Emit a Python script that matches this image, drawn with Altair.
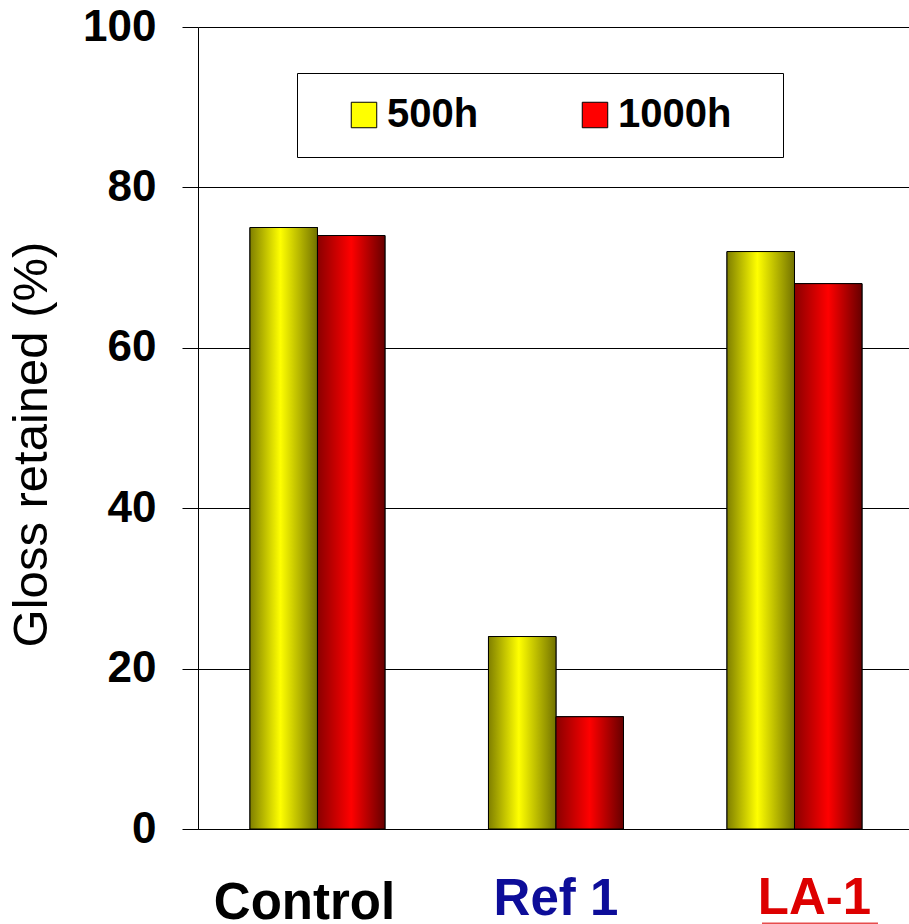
import altair as alt
import pandas as pd

categories = ["Control", "Ref 1", "LA-1"]
series = ["500h", "1000h"]
values_500h = [75, 24, 72]
values_1000h = [74, 14, 68]
series_colors = ["#ffff00", "#ff0000"]
y_ticks = [0, 20, 40, 60, 80, 100]

rows = []
for c, a, b in zip(categories, values_500h, values_1000h):
    rows.append({"cat": c, "series": "500h", "value": a})
    rows.append({"cat": c, "series": "1000h", "value": b})
df = pd.DataFrame(rows)
underline_df = pd.DataFrame({"cat": ["LA-1"]})

grad_yellow = {
    "gradient": "linear", "x1": 0, "x2": 1, "y1": 0, "y2": 0,
    "stops": [
        {"offset": 0, "color": "#7f7f00"},
        {"offset": 0.45, "color": "#ffff00"},
        {"offset": 1, "color": "#727200"},
    ],
}
grad_red = {
    "gradient": "linear", "x1": 0, "x2": 1, "y1": 0, "y2": 0,
    "stops": [
        {"offset": 0, "color": "#8a0000"},
        {"offset": 0.5, "color": "#ff0000"},
        {"offset": 1, "color": "#660000"},
    ],
}

x_enc = alt.X(
    "cat:N",
    sort=categories,
    scale=alt.Scale(paddingInner=0.434, paddingOuter=0.2075, align=0.525),
    axis=alt.Axis(
        title=None,
        labelAngle=0,
        ticks=False,
        domain=True,
        domainColor="black",
        labelFontSize=51,
        labelFontWeight="bold",
        labelPadding=alt.ExprRef(
            expr="datum.value == 'Control' ? 49 : (datum.value == 'LA-1' ? 44 : 45)"
        ),
        labelLimit=400,
        labelBaseline="top",
        labelOffset=alt.ExprRef(
            expr="datum.value == 'Control' ? -13 : (datum.value == 'LA-1' ? 20 : 0)"
        ),
        labelColor=alt.ExprRef(
            expr="datum.value == 'Ref 1' ? '#0d0d99' : (datum.value == 'LA-1' ? '#dd0000' : 'black')"
        ),
    ),
)
y_enc = alt.Y(
    "value:Q",
    scale=alt.Scale(domain=[0, 100]),
    axis=alt.Axis(
        values=y_ticks,
        title="Gloss retained (%)",
        titleFontSize=49,
        titleFontWeight="normal",
        titleColor="black",
        titlePadding=26,
        titleY=417,
        labelFontSize=44,
        labelFontWeight="bold",
        labelColor="black",
        labelPadding=26,
        tickSize=16,
        tickColor="black",
        grid=True,
        gridColor="black",
        domainColor="black",
    ),
)
xoff = alt.XOffset("series:N", sort=series)

base = alt.Chart(df).mark_bar(stroke="black", strokeWidth=1).encode(
    x=x_enc,
    xOffset=xoff,
    y=y_enc,
    color=alt.Color(
        "series:N",
        sort=series,
        scale=alt.Scale(domain=series, range=series_colors),
        legend=alt.Legend(title=None, labelExpr="datum.label + '\u2800'", labelLimit=300),
    ),
)

overlay = alt.Chart(df).mark_bar(stroke="black", strokeWidth=1).encode(
    x=x_enc,
    xOffset=xoff,
    y=y_enc,
    fill=alt.condition(
        alt.datum.series == "500h", alt.value(grad_yellow), alt.value(grad_red)
    ),
)

underline = alt.Chart(underline_df).mark_tick(
    orient="horizontal", size=116, thickness=3, color="#dd0000"
).encode(x=x_enc, y=alt.value(897), xOffset=alt.value(93))

chart = (
    alt.layer(base, overlay, underline)
    .properties(
        width=711,
        height=802,
        autosize=alt.AutoSizeParams(type="none"),
        padding={"left": 198, "top": 27, "right": 0, "bottom": 95},
    )
    .configure_view(stroke="transparent")
    .configure_axis(labelFont="Liberation Sans", titleFont="Liberation Sans")
    .configure_legend(
        orient="none",
        legendX=99,
        legendY=46,
        direction="horizontal",
        strokeColor="black",
        fillColor="white",
        padding=22,
        labelFont="Liberation Sans",
        labelFontSize=40,
        labelFontWeight="bold",
        labelColor="black",
        labelOffset=3,
        symbolType="square",
        symbolSize=650,
        symbolStrokeColor="black",
        symbolStrokeWidth=1,
        symbolOffset=25,
        columnPadding=42,
    )
)

chart.save("out.html", embed_options={"renderer": "svg", "actions": False})
